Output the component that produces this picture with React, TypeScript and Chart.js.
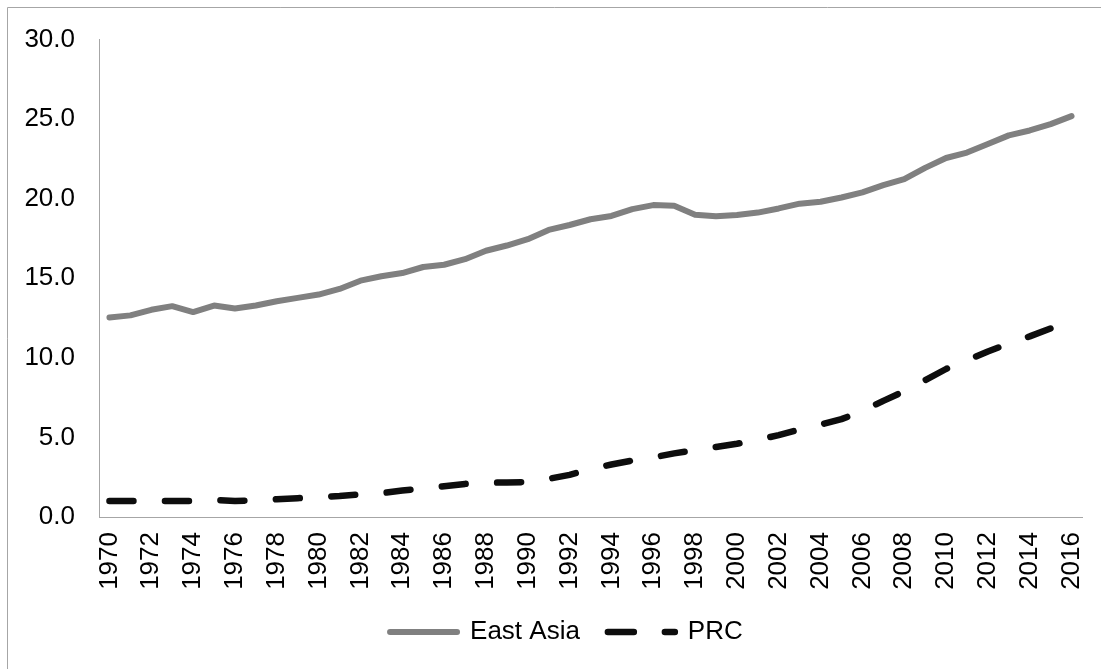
import React, { useEffect, useRef } from "react";
import { Chart, registerables } from "chart.js";

Chart.register(...registerables);

const years: string[] = [
  "1970","1971","1972","1973","1974","1975","1976","1977","1978","1979",
  "1980","1981","1982","1983","1984","1985","1986","1987","1988","1989",
  "1990","1991","1992","1993","1994","1995","1996","1997","1998","1999",
  "2000","2001","2002","2003","2004","2005","2006","2007","2008","2009",
  "2010","2011","2012","2013","2014","2015","2016",
];

const eastAsia: number[] = [
  12.54, 12.67, 13.02, 13.25, 12.88, 13.29, 13.1, 13.29, 13.56, 13.77,
  13.98, 14.33, 14.85, 15.13, 15.33, 15.71, 15.85, 16.2, 16.73, 17.06,
  17.46, 18.04, 18.35, 18.71, 18.92, 19.35, 19.6, 19.56, 19.0, 18.9,
  18.98, 19.13, 19.39, 19.69, 19.81, 20.08, 20.4, 20.85, 21.23, 21.94,
  22.56, 22.9, 23.44, 23.98, 24.29, 24.69, 25.19,
];

const prc: number[] = [
  1.0, 1.0, 1.0, 1.0, 1.0, 1.08, 1.0, 1.05, 1.12, 1.18,
  1.25, 1.32, 1.42, 1.5, 1.66, 1.8, 1.93, 2.08, 2.15, 2.17,
  2.2, 2.4, 2.65, 3.0, 3.3, 3.55, 3.75, 4.0, 4.2, 4.4,
  4.6, 4.85, 5.15, 5.5, 5.8, 6.15, 6.65, 7.3, 7.9, 8.6,
  9.3, 9.85, 10.4, 10.9, 11.35, 11.85, 12.3,
];

const seriesNames: string[] = ["East Asia", "PRC"];
const yTicks = { min: 0, max: 30, step: 5 };

const W = 1101;
const H = 669;

const framePlugin = {
  id: "frame",
  afterLayout(chart: any) {
    if (chart.legend) {
      chart.legend.left += 25.4;
      chart.legend.right += 25.4;
    }
  },
  beforeDraw(chart: any) {
    const ctx = chart.ctx;
    ctx.save();
    ctx.fillStyle = "#ffffff";
    ctx.fillRect(0, 0, chart.width, chart.height);
    ctx.strokeStyle = "#a6a6a6";
    ctx.lineWidth = 1;
    ctx.beginPath();
    ctx.moveTo(7.5, chart.height);
    ctx.lineTo(7.5, 7.5);
    ctx.lineTo(chart.width, 7.5);
    ctx.stroke();
    ctx.restore();
  },
};

export default function App() {
  const ref = useRef<HTMLCanvasElement | null>(null);

  useEffect(() => {
    if (!ref.current) return;
    Chart.defaults.font.family = "'Liberation Sans', Arial, sans-serif";
    Chart.defaults.color = "#000000";

    const chart = new Chart(ref.current, {
      type: "line",
      data: {
        labels: years,
        datasets: [
          {
            label: seriesNames[0],
            data: eastAsia,
            borderColor: "#808080",
            backgroundColor: "#808080",
            borderWidth: 6,
            borderCapStyle: "round",
            borderJoinStyle: "round",
            pointRadius: 0,
            tension: 0,
            fill: false,
          },
          {
            label: seriesNames[1],
            data: prc,
            borderColor: "#0d0d0d",
            backgroundColor: "#0d0d0d",
            borderWidth: 6.5,
            borderDash: [24, 31.5],
            borderCapStyle: "round",
            borderJoinStyle: "round",
            pointRadius: 0,
            tension: 0,
            fill: false,
          },
        ],
      },
      options: {
        animation: false,
        responsive: false,
        maintainAspectRatio: false,
        layout: { padding: { left: 0, right: 19, top: 37, bottom: 14 } },
        plugins: {
          tooltip: { enabled: false },
          legend: {
            position: "bottom",
            labels: {
              usePointStyle: true,
              pointStyleWidth: 67,
              padding: 28,
              font: { size: 26 },
              color: "#000000",
              generateLabels: (c: any) => {
                const items = Chart.defaults.plugins.legend.labels.generateLabels(c);
                return items.map((it: any, i: number) => ({
                  ...it,
                  pointStyle: "line",
                  lineCap: "round",
                  lineWidth: i === 0 ? 6 : 6.5,
                  lineDash: i === 0 ? [] : [26, 31],
                  lineDashOffset: 0,
                  strokeStyle: i === 0 ? "#808080" : "#0d0d0d",
                  fillStyle: i === 0 ? "#808080" : "#0d0d0d",
                }));
              },
            },
          },
        },
        scales: {
          x: {
            type: "category",
            offset: true,
            grid: { display: false, drawTicks: false },
            border: { display: true, color: "#a6a6a6", width: 1 },
            ticks: {
              autoSkip: false,
              maxRotation: 90,
              minRotation: 90,
              padding: 15,
              font: { size: 26 },
              color: "#000000",
              callback: (_v: any, i: number) => (i % 2 === 0 ? years[i] : ""),
            },
            afterFit: (s: any) => {
              s.height = 74;
              s.paddingLeft = 0;
              s.paddingRight = 0;
            },
          },
          y: {
            min: yTicks.min,
            max: yTicks.max,
            grid: { display: false, drawTicks: false },
            border: { display: true, color: "#a6a6a6", width: 1 },
            ticks: {
              stepSize: yTicks.step,
              padding: 24,
              font: { size: 26 },
              color: "#000000",
              callback: (v: any) => Number(v).toFixed(1),
            },
            afterFit: (s: any) => {
              s.width = 99;
            },
          },
        },
      },
      plugins: [framePlugin],
    } as any);

    return () => chart.destroy();
  }, []);

  return (
    <div style={{ position: "fixed", left: 0, top: 0, width: W, height: H, background: "#fff" }}>
      <canvas ref={ref} width={W} height={H} style={{ width: W, height: H, display: "block" }} />
    </div>
  );
}
